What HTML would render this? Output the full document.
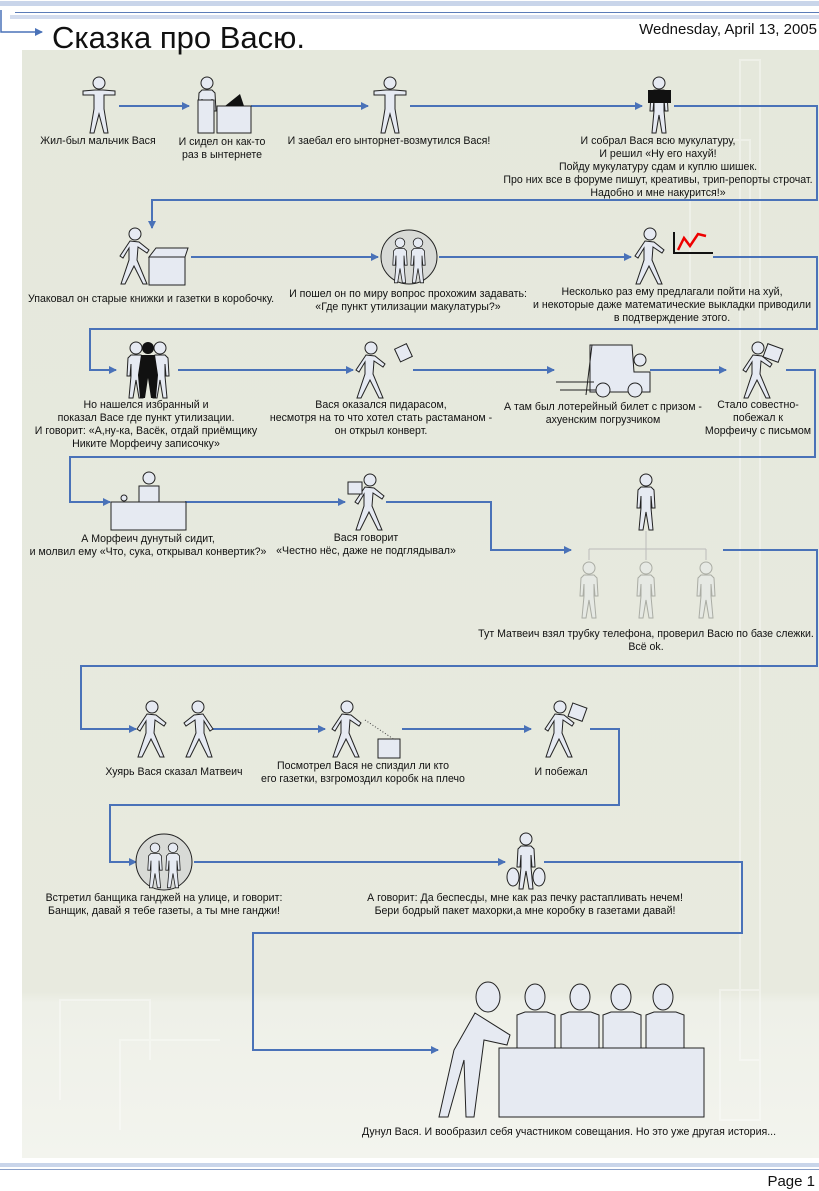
<!DOCTYPE html>
<html><head><meta charset="utf-8"><style>
html,body{margin:0;padding:0;background:#fff}
svg{display:block}
text{font-family:"Liberation Sans",Arial,sans-serif;font-size:10.6px;fill:#111}
.c{stroke:#4a72b8;stroke-width:2;fill:none}
.f{fill:#e6eaf2;stroke:#222;stroke-width:1}
</style></head><body>
<svg width="819" height="1191" viewBox="0 0 819 1191" xmlns="http://www.w3.org/2000/svg">
<defs>
<marker id="a" markerWidth="8" markerHeight="8" refX="7" refY="4" orient="auto" markerUnits="userSpaceOnUse"><path d="M0,0 L8,4 L0,8 Z" fill="#4a72b8"/></marker>
<linearGradient id="bg" x1="0" y1="0" x2="0" y2="1"><stop offset="0" stop-color="#e5e8dc"/><stop offset="0.85" stop-color="#e8eadf"/><stop offset="0.86" stop-color="#eef0e8"/><stop offset="1" stop-color="#f3f4ee"/></linearGradient>
<g id="man"><circle cx="0" cy="6" r="6" class="f"/><path class="f" d="M-4,13 L4,13 L16,14 L16,18 L5,18 L5,32 L9,56 L5,56 L0,37 L-5,56 L-9,56 L-5,32 L-5,18 L-16,18 L-16,14 Z"/></g>
<g id="std"><circle cx="0" cy="6" r="6" class="f"/><path class="f" d="M-5,13 L5,13 L8,16 L9,34 L6,34 L5,22 L5,34 L7,56 L3,56 L0,38 L-3,56 L-7,56 L-5,34 L-5,22 L-6,34 L-9,34 L-8,16 Z"/></g>
<g id="walk"><circle cx="2" cy="6" r="6" class="f"/><path class="f" d="M-3,13 L6,14 L16,22 L14,25 L5,19 L4,32 L14,56 L10,56 L1,38 L-8,56 L-12,56 L-4,32 L-4,20 L-10,30 L-13,28 Z"/></g>
</defs>
<!-- header -->
<rect x="0" y="1" width="819" height="5" fill="#c9d5ea"/>
<rect x="15" y="12" width="804" height="1" fill="#5b7cb8"/>
<rect x="10" y="15" width="809" height="4" fill="#d3dcee"/>
<path d="M1,10 V32 H42" stroke="#4a72b8" stroke-width="1.5" fill="none" marker-end="url(#a)"/>
<text x="817" y="34" text-anchor="end" style="font-size:15px">Wednesday, April 13, 2005</text>
<!-- panel -->
<rect x="22" y="50" width="797" height="1108" fill="url(#bg)"/>
<text x="52" y="48" style="font-size:31px">Сказка про Васю.</text>
<g opacity="0.35" fill="none" stroke="#fff" stroke-width="2">
<rect x="740" y="60" width="20" height="1000"/><rect x="690" y="140" width="60" height="160"/><path d="M60,1100 V1000 H150 V1060 M120,1130 V1040 H220"/><rect x="720" y="990" width="40" height="130"/>
</g>
<rect x="0" y="1163" width="819" height="4" fill="#c9d5ea"/><rect x="0" y="1169" width="819" height="1" fill="#8aa0c8"/>
<text x="815" y="1186" text-anchor="end" style="font-size:15px">Page 1</text>
<!-- connectors -->
<g class="c">
<path d="M119,106 H189" marker-end="url(#a)"/>
<path d="M251,106 H368" marker-end="url(#a)"/>
<path d="M410,106 H642" marker-end="url(#a)"/>
<path d="M674,106 H817 V200 H152 V228" marker-end="url(#a)"/>
<path d="M191,257 H378" marker-end="url(#a)"/>
<path d="M439,257 H631" marker-end="url(#a)"/>
<path d="M713,257 H817 V329 H90 V370 H116" marker-end="url(#a)"/>
<path d="M178,370 H353" marker-end="url(#a)"/>
<path d="M413,370 H554" marker-end="url(#a)"/>
<path d="M650,370 H726" marker-end="url(#a)"/>
<path d="M786,370 H815 V457 H70 V502 H110" marker-end="url(#a)"/>
<path d="M185,502 H345" marker-end="url(#a)"/>
<path d="M386,502 H491 V550 H571" marker-end="url(#a)"/>
<path d="M723,550 H817 V666 H81 V729 H136" marker-end="url(#a)"/>
<path d="M213,729 H325" marker-end="url(#a)"/>
<path d="M402,729 H531" marker-end="url(#a)"/>
<path d="M590,729 H619 V805 H110 V862 H136" marker-end="url(#a)"/>
<path d="M194,862 H505" marker-end="url(#a)"/>
<path d="M544,862 H742 V933 H253 V1050 H438" marker-end="url(#a)"/>
</g>
<!-- row1 figures -->
<use href="#man" x="99" y="77"/>
<g><use href="#std" x="207" y="77"/><path class="f" d="M198,100 H214 V133 H198 Z"/><rect class="f" x="217" y="106" width="34" height="27"/><path d="M225,106 L240,94 L244,106 Z" fill="#111"/></g>
<use href="#man" x="390" y="77"/>
<g><use href="#std" x="659" y="77"/><rect x="648" y="90" width="23" height="13" fill="#111"/></g>
<!-- row2 -->
<g><use href="#walk" x="133" y="228"/><rect class="f" x="149" y="257" width="36" height="28"/><path class="f" d="M149,257 L156,248 L188,248 L185,257 Z"/></g>
<g><ellipse class="f" cx="409" cy="257" rx="28" ry="27" style="fill:#d8dad6"/><g transform="translate(400,238) scale(0.8)"><use href="#std" x="0" y="0"/></g><g transform="translate(418,238) scale(0.8)"><use href="#std" x="0" y="0"/></g></g>
<g><use href="#walk" x="648" y="228"/><path d="M674,232 V253 H713" stroke="#111" stroke-width="2" fill="none"/><path d="M678,250 L684,238 L690,246 L698,234 L706,236" stroke="#e00" stroke-width="2.5" fill="none"/></g>
<!-- row3 -->
<g><use href="#std" x="160" y="342"/><use href="#std" x="136" y="342"/><circle cx="148" cy="348" r="6" fill="#111"/><path d="M141,355 H155 L158,375 L156,398 L151,398 L148,378 L145,398 L140,398 L138,375 Z" fill="#111"/></g>
<g><use href="#walk" x="369" y="342"/><rect class="f" x="397" y="346" width="13" height="14" transform="rotate(-25 403 353)"/></g>
<g><path d="M590,345 H632 L634,372 H650 V392 H590 Z" class="f"/><path d="M592,345 L586,395 M560,390 H598 M556,382 H594" stroke="#222" fill="none"/><circle class="f" cx="603" cy="390" r="7"/><circle class="f" cx="635" cy="390" r="7"/><circle class="f" cx="640" cy="360" r="6"/></g>
<g><use href="#walk" x="756" y="342"/><rect class="f" x="765" y="346" width="16" height="14" transform="rotate(20 773 353)"/></g>
<!-- row4 -->
<g><circle class="f" cx="149" cy="478" r="6"/><path class="f" d="M139,486 H159 V502 H139 Z"/><rect class="f" x="111" y="502" width="75" height="28"/><circle class="f" cx="124" cy="498" r="3"/></g>
<g><use href="#walk" x="368" y="474"/><rect class="f" x="348" y="482" width="14" height="12"/></g>
<use href="#std" x="646" y="474"/>
<path d="M646,531 V549 M589,549 H706 M589,549 V560 M646,549 V560 M706,549 V560" stroke="#bbb" fill="none"/>
<g opacity="0.3"><use href="#std" x="589" y="562"/><use href="#std" x="646" y="562"/><use href="#std" x="706" y="562"/></g>
<!-- row5 -->
<use href="#walk" x="150" y="701"/><g transform="translate(350,0) scale(-1,1)"><use href="#walk" x="150" y="701"/></g>
<g><use href="#walk" x="345" y="701"/><rect class="f" x="378" y="739" width="22" height="19"/><path d="M365,720 L395,740" stroke="#444" stroke-dasharray="1,2"/></g>
<g><use href="#walk" x="558" y="701"/><rect class="f" x="570" y="705" width="15" height="14" transform="rotate(20 577 712)"/></g>
<!-- row6 -->
<g><ellipse class="f" cx="164" cy="862" rx="28" ry="28" style="fill:#d8dad6"/><g transform="translate(155,843) scale(0.8)"><use href="#std" x="0" y="0"/></g><g transform="translate(173,843) scale(0.8)"><use href="#std" x="0" y="0"/></g></g>
<g><use href="#std" x="526" y="833"/><ellipse class="f" cx="513" cy="877" rx="6" ry="9"/><ellipse class="f" cx="539" cy="877" rx="6" ry="9"/></g>
<!-- final -->
<g>
<ellipse class="f" cx="488" cy="997" rx="12" ry="15"/>
<path class="f" d="M475,1013 L510,1035 L507,1045 L484,1040 L474,1117 L466,1117 L464,1060 L448,1117 L439,1117 L454,1050 Z"/>
<ellipse class="f" cx="535" cy="997" rx="10" ry="13"/><ellipse class="f" cx="580" cy="997" rx="10" ry="13"/><ellipse class="f" cx="621" cy="997" rx="10" ry="13"/><ellipse class="f" cx="663" cy="997" rx="10" ry="13"/>
<path class="f" d="M517,1015 L525,1012 H547 L555,1015 V1048 H517 Z"/><path class="f" d="M561,1015 L569,1012 H591 L599,1015 V1048 H561 Z"/><path class="f" d="M603,1015 L611,1012 H633 L641,1015 V1048 H603 Z"/><path class="f" d="M646,1015 L654,1012 H676 L684,1015 V1048 H646 Z"/>
<rect class="f" x="499" y="1048" width="205" height="69"/>
</g>
<!-- labels -->
<g text-anchor="middle">
<text x="98" y="144">Жил-был мальчик Вася</text>
<text x="222" y="145">И сидел он как-то</text><text x="222" y="158">раз в ынтернете</text>
<text x="389" y="144">И заебал его ынторнет-возмутился Вася!</text>
<text x="658" y="144">И собрал Вася всю мукулатуру,</text>
<text x="658" y="157">И решил «Ну его нахуй!</text>
<text x="658" y="170">Пойду мукулатуру сдам и куплю шишек.</text>
<text x="658" y="183">Про них все в форуме пишут, креативы, трип-репорты строчат.</text>
<text x="658" y="196">Надобно и мне накурится!»</text>
<text x="151" y="302">Упаковал он старые книжки и газетки в коробочку.</text>
<text x="408" y="297">И пошел он по миру вопрос прохожим задавать:</text><text x="408" y="310">«Где пункт утилизации макулатуры?»</text>
<text x="672" y="295">Несколько раз ему предлагали пойти на хуй,</text><text x="672" y="308">и некоторые даже математические выкладки приводили</text><text x="672" y="321">в подтверждение этого.</text>
<text x="146" y="408">Но нашелся избранный и</text><text x="146" y="421">показал Васе где пункт утилизации.</text><text x="146" y="434">И говорит: «А,ну-ка, Васёк, отдай приёмщику</text><text x="146" y="447">Никите Морфеичу записочку»</text>
<text x="381" y="408">Вася оказался пидарасом,</text><text x="381" y="421">несмотря на то что хотел стать растаманом -</text><text x="381" y="434">он открыл конверт.</text>
<text x="603" y="410">А там был лотерейный билет с призом -</text><text x="603" y="423">ахуенским погрузчиком</text>
<text x="758" y="408">Стало совестно-</text><text x="758" y="421">побежал к</text><text x="758" y="434">Морфеичу с письмом</text>
<text x="148" y="542">А Морфеич дунутый сидит,</text><text x="148" y="555">и молвил ему «Что, сука, открывал конвертик?»</text>
<text x="366" y="541">Вася говорит</text><text x="366" y="554">«Честно нёс, даже не подглядывал»</text>
<text x="646" y="637">Тут Матвеич взял трубку телефона, проверил Васю по базе слежки.</text><text x="646" y="650">Всё ok.</text>
<text x="174" y="775">Хуярь Вася сказал Матвеич</text>
<text x="363" y="769">Посмотрел Вася не спиздил ли кто</text><text x="363" y="782">его газетки, взгромоздил коробк на плечо</text>
<text x="561" y="775">И побежал</text>
<text x="164" y="901">Встретил банщика ганджей на улице, и говорит:</text><text x="164" y="914">Банщик, давай я тебе газеты, а ты мне ганджи!</text>
<text x="525" y="901">А говорит: Да беспесды, мне как раз печку растапливать нечем!</text><text x="525" y="914">Бери бодрый пакет махорки,а мне коробку в газетами давай!</text>
<text x="569" y="1135">Дунул Вася. И вообразил себя участником совещания. Но это уже другая история...</text>
</g>
</svg>
</body></html>
